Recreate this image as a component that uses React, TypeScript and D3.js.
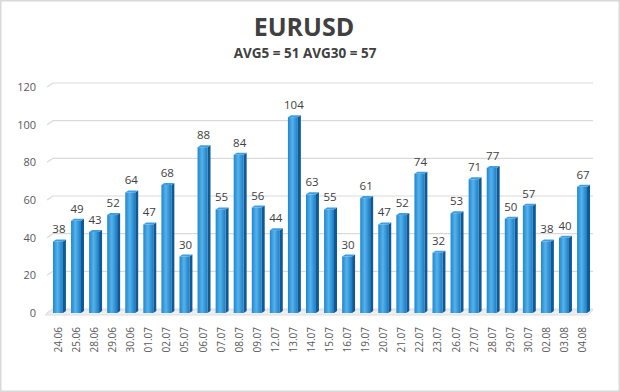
import React, { useRef, useEffect } from 'react';
import * as d3 from 'd3';

const dates = ['24.06', '25.06', '28.06', '29.06', '30.06', '01.07', '02.07', '05.07', '06.07', '07.07',
  '08.07', '09.07', '12.07', '13.07', '14.07', '15.07', '16.07', '19.07', '20.07', '21.07',
  '22.07', '23.07', '26.07', '27.07', '28.07', '29.07', '30.07', '02.08', '03.08', '04.08'];
const values = [38, 49, 43, 52, 64, 47, 68, 30, 88, 55, 84, 56, 44, 104, 63, 55, 30, 61, 47, 52,
  74, 32, 53, 71, 77, 50, 57, 38, 40, 67];
const yTicks = [0, 20, 40, 60, 80, 100, 120];
const title = 'EURUSD';
const subtitle = 'AVG5 = 51 AVG30 = 57';

const App = () => {
  const ref = useRef<SVGSVGElement>(null);

  useEffect(() => {
    const W = 620, H = 392;
    const svg = d3.select(ref.current);
    svg.selectAll('*').remove();

    const font = "'Open Sans', 'DejaVu Sans', sans-serif";

    var defs = svg.append('defs');
    var grad = defs.append('linearGradient').attr('id', 'barGrad')
      .attr('x1', '0%').attr('x2', '100%').attr('y1', '0%').attr('y2', '0%');
    grad.append('stop').attr('offset', '0%').attr('stop-color', '#1f86d0');
    grad.append('stop').attr('offset', '45%').attr('stop-color', '#55b2ea');
    grad.append('stop').attr('offset', '100%').attr('stop-color', '#1a7cc6');

    svg.append('rect').attr('x', 0.5).attr('y', 0.5).attr('width', W - 1).attr('height', H - 1)
      .attr('fill', '#fff').attr('stroke', '#d9d9d9').attr('stroke-width', 2);

    var x = d3.scaleBand().domain(dates).range([49, 591]).paddingInner(0.45).paddingOuter(0.22);
    var y = d3.scaleLinear().domain([0, 120]).range([313, 87]);

    // gridlines, drawn like the back wall of a 3D chart
    var grid = svg.append('g');
    yTicks.forEach((t) => {
      var yy = y(t) - 4;
      grid.append('path')
        .attr('d', `M 47 ${yy + 4} L 53 ${yy} L 593 ${yy}`)
        .attr('fill', 'none')
        .attr('stroke', '#d9d9d9')
        .attr('stroke-width', 1.2);
    });
    grid.append('path')
      .attr('d', `M 45 ${y(0) + 2} L 51 ${y(0) - 3} L 593 ${y(0) - 3} L 588 ${y(0) + 2} Z`)
      .attr('fill', '#efefef').attr('stroke', '#dddddd');

    svg.append('g').selectAll('text').data(yTicks).enter().append('text')
      .attr('x', 36).attr('y', (d) => y(d)).attr('dy', '0.35em')
      .attr('text-anchor', 'end')
      .attr('font-family', font).attr('font-size', 11).attr('fill', '#595959')
      .text((d) => d);

    var bw = x.bandwidth();
    var depth = 3;
    var bars = svg.append('g').selectAll('g').data(values).enter().append('g');

    bars.append('path')
      .attr('d', (d, i) => {
        var x0 = x(dates[i])! + bw, yt = y(d);
        return `M ${x0} ${yt} L ${x0 + depth} ${yt - 2} L ${x0 + depth} ${y(0) - 2} L ${x0} ${y(0)} Z`;
      })
      .attr('fill', '#0f5a94');
    bars.append('path')
      .attr('d', (d, i) => {
        var x0 = x(dates[i])!, yt = y(d);
        return `M ${x0} ${yt} L ${x0 + depth} ${yt - 2} L ${x0 + bw + depth} ${yt - 2} L ${x0 + bw} ${yt} Z`;
      })
      .attr('fill', '#3f9ee0');
    bars.append('rect')
      .attr('x', (d, i) => x(dates[i])!)
      .attr('y', (d) => y(d))
      .attr('width', bw)
      .attr('height', (d) => y(0) - y(d))
      .attr('fill', 'url(#barGrad)');

    bars.append('text')
      .attr('x', (d, i) => x(dates[i])! + bw / 2 + 1)
      .attr('y', (d) => y(d) - 8)
      .attr('text-anchor', 'middle')
      .attr('font-family', font).attr('font-size', 11.5).attr('fill', '#404040')
      .text((d) => d);

    svg.append('g').selectAll('text').data(dates).enter().append('text')
      .attr('transform', (d) => `translate(${x(d)! + bw / 2 + 4},327) rotate(-90)`)
      .attr('text-anchor', 'end')
      .attr('font-family', font).attr('font-size', 10).attr('fill', '#595959')
      .text((d) => d);

    svg.append('text').attr('x', 304).attr('y', 36).attr('text-anchor', 'middle')
      .attr('font-family', font).attr('font-size', 25).attr('font-weight', 'bold').attr('fill', '#404040')
      .text(title);
    svg.append('text').attr('x', 305).attr('y', 58).attr('text-anchor', 'middle')
      .attr('font-family', font).attr('font-size', 13.5).attr('font-weight', 'bold').attr('fill', '#404040')
      .text(subtitle);
  }, []);

  return (
    <div style={{ position: 'absolute', left: 0, top: 0 }}>
      <svg ref={ref} width={620} height={392} style={{ display: 'block' }} />
    </div>
  );
};

export default App;
